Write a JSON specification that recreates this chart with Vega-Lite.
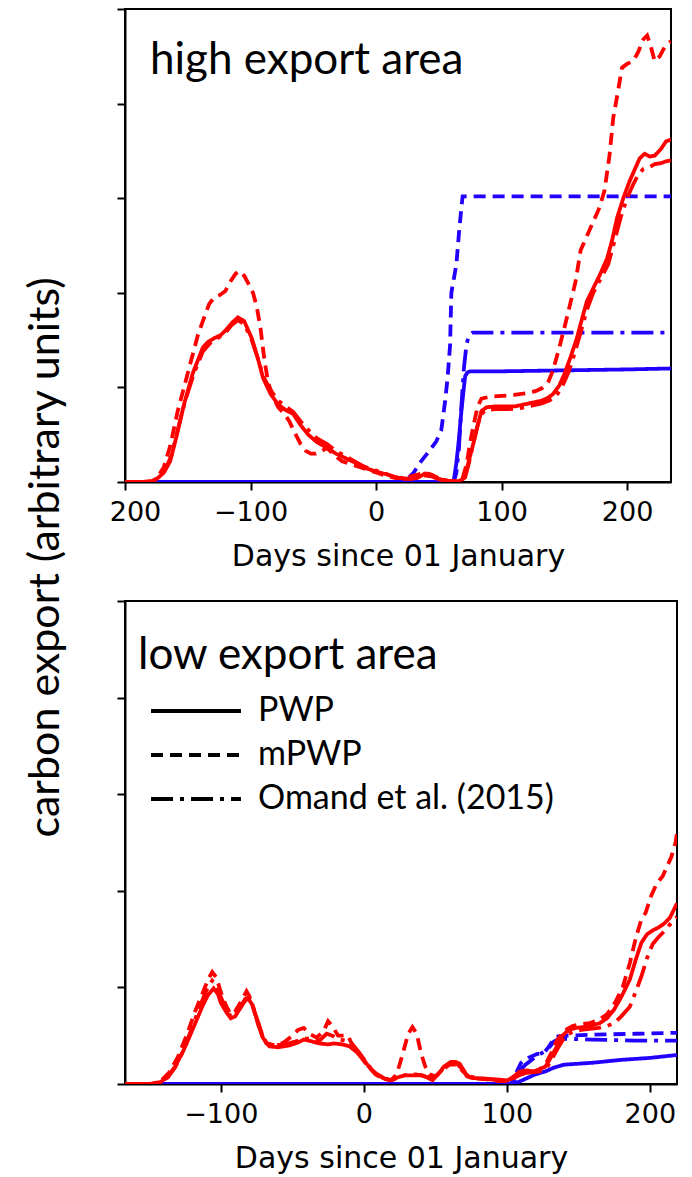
{
  "$schema": "https://vega.github.io/schema/vega-lite/v6.json",
  "background": "white",
  "padding": {"left": 23, "top": 7, "right": 5, "bottom": 5},
  "bounds": "flush",
  "spacing": 119,
  "config": {
    "view": {"stroke": "black", "strokeWidth": 2},
    "axis": {"domainColor": "black", "tickColor": "black", "labelColor": "black", "titleColor": "black", "labelFont": "DejaVu Sans", "titleFont": "DejaVu Sans", "grid": false, "domainWidth": 2, "tickWidth": 2, "tickSize": 8, "labelFontSize": 27, "titleFontSize": 30, "titleFontWeight": "normal", "labelPadding": 9, "titlePadding": 16, "labelFlush": false}
  },
  "resolve": {
    "scale": {"x": "independent", "y": "independent", "color": "independent", "strokeDash": "independent"},
    "legend": {"color": "independent", "strokeDash": "independent"}
  },
  "datasets": {
    "high": [
      {"group":"B","method":"PWP","day":-200,"value":0},{"group":"B","method":"PWP","day":60,"value":0},{"group":"B","method":"PWP","day":62,"value":0.02},{"group":"B","method":"PWP","day":64,"value":0.2},{"group":"B","method":"PWP","day":66,"value":0.45},{"group":"B","method":"PWP","day":68,"value":0.75},{"group":"B","method":"PWP","day":70,"value":1.0},{"group":"B","method":"PWP","day":71,"value":1.12},{"group":"B","method":"PWP","day":73,"value":1.16},{"group":"B","method":"PWP","day":75,"value":1.17},{"group":"B","method":"PWP","day":100,"value":1.17},{"group":"B","method":"PWP","day":150,"value":1.18},{"group":"B","method":"PWP","day":200,"value":1.19},{"group":"B","method":"PWP","day":235,"value":1.2},
      {"group":"B","method":"mPWP","day":-200,"value":0},{"group":"B","method":"mPWP","day":20,"value":0},{"group":"B","method":"mPWP","day":25,"value":0.03},{"group":"B","method":"mPWP","day":30,"value":0.1},{"group":"B","method":"mPWP","day":36,"value":0.22},{"group":"B","method":"mPWP","day":42,"value":0.32},{"group":"B","method":"mPWP","day":48,"value":0.43},{"group":"B","method":"mPWP","day":52,"value":0.55},{"group":"B","method":"mPWP","day":55,"value":0.85},{"group":"B","method":"mPWP","day":57,"value":1.1},{"group":"B","method":"mPWP","day":59,"value":1.45},{"group":"B","method":"mPWP","day":60,"value":2.0},{"group":"B","method":"mPWP","day":62,"value":2.15},{"group":"B","method":"mPWP","day":64,"value":2.3},{"group":"B","method":"mPWP","day":66,"value":2.62},{"group":"B","method":"mPWP","day":68,"value":2.9},{"group":"B","method":"mPWP","day":69,"value":3.02},{"group":"B","method":"mPWP","day":100,"value":3.02},{"group":"B","method":"mPWP","day":235,"value":3.02},
      {"group":"B","method":"Omand et al. (2015)","day":-200,"value":0},{"group":"B","method":"Omand et al. (2015)","day":62,"value":0},{"group":"B","method":"Omand et al. (2015)","day":64,"value":0.1},{"group":"B","method":"Omand et al. (2015)","day":66,"value":0.35},{"group":"B","method":"Omand et al. (2015)","day":68,"value":0.8},{"group":"B","method":"Omand et al. (2015)","day":70,"value":1.2},{"group":"B","method":"Omand et al. (2015)","day":72,"value":1.45},{"group":"B","method":"Omand et al. (2015)","day":74,"value":1.55},{"group":"B","method":"Omand et al. (2015)","day":77,"value":1.58},{"group":"B","method":"Omand et al. (2015)","day":235,"value":1.58},
      {"group":"A","method":"PWP","day":-200,"value":0},{"group":"A","method":"PWP","day":-185,"value":0},{"group":"A","method":"PWP","day":-178,"value":0.01},{"group":"A","method":"PWP","day":-174,"value":0.04},{"group":"A","method":"PWP","day":-169,"value":0.1},{"group":"A","method":"PWP","day":-164,"value":0.22},{"group":"A","method":"PWP","day":-159,"value":0.48},{"group":"A","method":"PWP","day":-153,"value":0.82},{"group":"A","method":"PWP","day":-146,"value":1.15},{"group":"A","method":"PWP","day":-138,"value":1.42},{"group":"A","method":"PWP","day":-134,"value":1.48},{"group":"A","method":"PWP","day":-129,"value":1.52},{"group":"A","method":"PWP","day":-124,"value":1.55},{"group":"A","method":"PWP","day":-120,"value":1.6},{"group":"A","method":"PWP","day":-115,"value":1.68},{"group":"A","method":"PWP","day":-110,"value":1.74},{"group":"A","method":"PWP","day":-105,"value":1.7},{"group":"A","method":"PWP","day":-99,"value":1.52},{"group":"A","method":"PWP","day":-94,"value":1.3},{"group":"A","method":"PWP","day":-90,"value":1.1},{"group":"A","method":"PWP","day":-84,"value":0.93},{"group":"A","method":"PWP","day":-78,"value":0.82},{"group":"A","method":"PWP","day":-72,"value":0.76},{"group":"A","method":"PWP","day":-66,"value":0.72},{"group":"A","method":"PWP","day":-60,"value":0.6},{"group":"A","method":"PWP","day":-54,"value":0.5},{"group":"A","method":"PWP","day":-47,"value":0.42},{"group":"A","method":"PWP","day":-39,"value":0.36},{"group":"A","method":"PWP","day":-32,"value":0.3},{"group":"A","method":"PWP","day":-24,"value":0.25},{"group":"A","method":"PWP","day":-16,"value":0.2},{"group":"A","method":"PWP","day":-9,"value":0.15},{"group":"A","method":"PWP","day":0,"value":0.11},{"group":"A","method":"PWP","day":9,"value":0.08},{"group":"A","method":"PWP","day":15,"value":0.05},{"group":"A","method":"PWP","day":21,"value":0.04},{"group":"A","method":"PWP","day":28,"value":0.03},{"group":"A","method":"PWP","day":34,"value":0.05},{"group":"A","method":"PWP","day":39,"value":0.09},{"group":"A","method":"PWP","day":44,"value":0.07},{"group":"A","method":"PWP","day":50,"value":0.03},{"group":"A","method":"PWP","day":58,"value":0.01},{"group":"A","method":"PWP","day":66,"value":0.01},{"group":"A","method":"PWP","day":69,"value":0.03},{"group":"A","method":"PWP","day":72,"value":0.12},{"group":"A","method":"PWP","day":75,"value":0.28},{"group":"A","method":"PWP","day":78,"value":0.43},{"group":"A","method":"PWP","day":81,"value":0.6},{"group":"A","method":"PWP","day":84,"value":0.75},{"group":"A","method":"PWP","day":88,"value":0.79},{"group":"A","method":"PWP","day":96,"value":0.8},{"group":"A","method":"PWP","day":104,"value":0.8},{"group":"A","method":"PWP","day":111,"value":0.8},{"group":"A","method":"PWP","day":118,"value":0.82},{"group":"A","method":"PWP","day":125,"value":0.84},{"group":"A","method":"PWP","day":132,"value":0.86},{"group":"A","method":"PWP","day":137,"value":0.89},{"group":"A","method":"PWP","day":141,"value":0.93},{"group":"A","method":"PWP","day":146,"value":1.02},{"group":"A","method":"PWP","day":150,"value":1.14},{"group":"A","method":"PWP","day":155,"value":1.32},{"group":"A","method":"PWP","day":160,"value":1.52},{"group":"A","method":"PWP","day":164,"value":1.72},{"group":"A","method":"PWP","day":168,"value":1.91},{"group":"A","method":"PWP","day":172,"value":2.02},{"group":"A","method":"PWP","day":178,"value":2.18},{"group":"A","method":"PWP","day":184,"value":2.36},{"group":"A","method":"PWP","day":188,"value":2.55},{"group":"A","method":"PWP","day":192,"value":2.79},{"group":"A","method":"PWP","day":197,"value":3.0},{"group":"A","method":"PWP","day":202,"value":3.18},{"group":"A","method":"PWP","day":206,"value":3.3},{"group":"A","method":"PWP","day":210,"value":3.42},{"group":"A","method":"PWP","day":214,"value":3.47},{"group":"A","method":"PWP","day":218,"value":3.44},{"group":"A","method":"PWP","day":222,"value":3.45},{"group":"A","method":"PWP","day":227,"value":3.52},{"group":"A","method":"PWP","day":231,"value":3.6},{"group":"A","method":"PWP","day":235,"value":3.62},
      {"group":"A","method":"mPWP","day":-200,"value":0},{"group":"A","method":"mPWP","day":-185,"value":0},{"group":"A","method":"mPWP","day":-178,"value":0.01},{"group":"A","method":"mPWP","day":-174,"value":0.05},{"group":"A","method":"mPWP","day":-169,"value":0.16},{"group":"A","method":"mPWP","day":-164,"value":0.38},{"group":"A","method":"mPWP","day":-158,"value":0.75},{"group":"A","method":"mPWP","day":-152,"value":1.05},{"group":"A","method":"mPWP","day":-147,"value":1.3},{"group":"A","method":"mPWP","day":-142,"value":1.55},{"group":"A","method":"mPWP","day":-138,"value":1.7},{"group":"A","method":"mPWP","day":-133,"value":1.88},{"group":"A","method":"mPWP","day":-129,"value":1.95},{"group":"A","method":"mPWP","day":-124,"value":1.98},{"group":"A","method":"mPWP","day":-120,"value":2.02},{"group":"A","method":"mPWP","day":-116,"value":2.12},{"group":"A","method":"mPWP","day":-112,"value":2.2},{"group":"A","method":"mPWP","day":-109,"value":2.23},{"group":"A","method":"mPWP","day":-105,"value":2.18},{"group":"A","method":"mPWP","day":-101,"value":2.08},{"group":"A","method":"mPWP","day":-98,"value":2.0},{"group":"A","method":"mPWP","day":-95,"value":1.85},{"group":"A","method":"mPWP","day":-92,"value":1.62},{"group":"A","method":"mPWP","day":-89,"value":1.3},{"group":"A","method":"mPWP","day":-86,"value":1.05},{"group":"A","method":"mPWP","day":-82,"value":0.9},{"group":"A","method":"mPWP","day":-78,"value":0.79},{"group":"A","method":"mPWP","day":-73,"value":0.72},{"group":"A","method":"mPWP","day":-69,"value":0.64},{"group":"A","method":"mPWP","day":-64,"value":0.5},{"group":"A","method":"mPWP","day":-60,"value":0.4},{"group":"A","method":"mPWP","day":-56,"value":0.33},{"group":"A","method":"mPWP","day":-52,"value":0.3},{"group":"A","method":"mPWP","day":-48,"value":0.3},{"group":"A","method":"mPWP","day":-43,"value":0.33},{"group":"A","method":"mPWP","day":-39,"value":0.36},{"group":"A","method":"mPWP","day":-33,"value":0.28},{"group":"A","method":"mPWP","day":-27,"value":0.22},{"group":"A","method":"mPWP","day":-18,"value":0.18},{"group":"A","method":"mPWP","day":-9,"value":0.14},{"group":"A","method":"mPWP","day":0,"value":0.1},{"group":"A","method":"mPWP","day":9,"value":0.06},{"group":"A","method":"mPWP","day":16,"value":0.04},{"group":"A","method":"mPWP","day":22,"value":0.04},{"group":"A","method":"mPWP","day":28,"value":0.06},{"group":"A","method":"mPWP","day":34,"value":0.08},{"group":"A","method":"mPWP","day":39,"value":0.1},{"group":"A","method":"mPWP","day":44,"value":0.08},{"group":"A","method":"mPWP","day":50,"value":0.04},{"group":"A","method":"mPWP","day":58,"value":0.01},{"group":"A","method":"mPWP","day":66,"value":0.01},{"group":"A","method":"mPWP","day":69,"value":0.04},{"group":"A","method":"mPWP","day":72,"value":0.18},{"group":"A","method":"mPWP","day":75,"value":0.42},{"group":"A","method":"mPWP","day":78,"value":0.62},{"group":"A","method":"mPWP","day":81,"value":0.8},{"group":"A","method":"mPWP","day":84,"value":0.88},{"group":"A","method":"mPWP","day":90,"value":0.9},{"group":"A","method":"mPWP","day":100,"value":0.91},{"group":"A","method":"mPWP","day":110,"value":0.92},{"group":"A","method":"mPWP","day":120,"value":0.94},{"group":"A","method":"mPWP","day":127,"value":0.96},{"group":"A","method":"mPWP","day":132,"value":0.99},{"group":"A","method":"mPWP","day":137,"value":1.05},{"group":"A","method":"mPWP","day":141,"value":1.18},{"group":"A","method":"mPWP","day":146,"value":1.42},{"group":"A","method":"mPWP","day":151,"value":1.68},{"group":"A","method":"mPWP","day":155,"value":1.9},{"group":"A","method":"mPWP","day":159,"value":2.12},{"group":"A","method":"mPWP","day":163,"value":2.45},{"group":"A","method":"mPWP","day":168,"value":2.6},{"group":"A","method":"mPWP","day":173,"value":2.75},{"group":"A","method":"mPWP","day":178,"value":2.9},{"group":"A","method":"mPWP","day":182,"value":3.08},{"group":"A","method":"mPWP","day":186,"value":3.45},{"group":"A","method":"mPWP","day":189,"value":3.85},{"group":"A","method":"mPWP","day":193,"value":4.15},{"group":"A","method":"mPWP","day":196,"value":4.38},{"group":"A","method":"mPWP","day":200,"value":4.42},{"group":"A","method":"mPWP","day":205,"value":4.45},{"group":"A","method":"mPWP","day":209,"value":4.55},{"group":"A","method":"mPWP","day":213,"value":4.68},{"group":"A","method":"mPWP","day":216,"value":4.72},{"group":"A","method":"mPWP","day":219,"value":4.6},{"group":"A","method":"mPWP","day":222,"value":4.45},{"group":"A","method":"mPWP","day":226,"value":4.5},{"group":"A","method":"mPWP","day":230,"value":4.6},{"group":"A","method":"mPWP","day":235,"value":4.66},
      {"group":"A","method":"Omand et al. (2015)","day":-200,"value":0},{"group":"A","method":"Omand et al. (2015)","day":-185,"value":0},{"group":"A","method":"Omand et al. (2015)","day":-178,"value":0.01},{"group":"A","method":"Omand et al. (2015)","day":-173,"value":0.05},{"group":"A","method":"Omand et al. (2015)","day":-168,"value":0.13},{"group":"A","method":"Omand et al. (2015)","day":-163,"value":0.28},{"group":"A","method":"Omand et al. (2015)","day":-158,"value":0.55},{"group":"A","method":"Omand et al. (2015)","day":-152,"value":0.86},{"group":"A","method":"Omand et al. (2015)","day":-145,"value":1.15},{"group":"A","method":"Omand et al. (2015)","day":-138,"value":1.38},{"group":"A","method":"Omand et al. (2015)","day":-132,"value":1.47},{"group":"A","method":"Omand et al. (2015)","day":-126,"value":1.52},{"group":"A","method":"Omand et al. (2015)","day":-120,"value":1.58},{"group":"A","method":"Omand et al. (2015)","day":-115,"value":1.66},{"group":"A","method":"Omand et al. (2015)","day":-110,"value":1.71},{"group":"A","method":"Omand et al. (2015)","day":-105,"value":1.67},{"group":"A","method":"Omand et al. (2015)","day":-99,"value":1.5},{"group":"A","method":"Omand et al. (2015)","day":-94,"value":1.3},{"group":"A","method":"Omand et al. (2015)","day":-90,"value":1.12},{"group":"A","method":"Omand et al. (2015)","day":-84,"value":0.97},{"group":"A","method":"Omand et al. (2015)","day":-78,"value":0.86},{"group":"A","method":"Omand et al. (2015)","day":-72,"value":0.8},{"group":"A","method":"Omand et al. (2015)","day":-66,"value":0.74},{"group":"A","method":"Omand et al. (2015)","day":-60,"value":0.64},{"group":"A","method":"Omand et al. (2015)","day":-54,"value":0.55},{"group":"A","method":"Omand et al. (2015)","day":-47,"value":0.46},{"group":"A","method":"Omand et al. (2015)","day":-39,"value":0.4},{"group":"A","method":"Omand et al. (2015)","day":-32,"value":0.33},{"group":"A","method":"Omand et al. (2015)","day":-24,"value":0.27},{"group":"A","method":"Omand et al. (2015)","day":-16,"value":0.21},{"group":"A","method":"Omand et al. (2015)","day":-9,"value":0.16},{"group":"A","method":"Omand et al. (2015)","day":0,"value":0.12},{"group":"A","method":"Omand et al. (2015)","day":9,"value":0.08},{"group":"A","method":"Omand et al. (2015)","day":16,"value":0.05},{"group":"A","method":"Omand et al. (2015)","day":24,"value":0.03},{"group":"A","method":"Omand et al. (2015)","day":32,"value":0.04},{"group":"A","method":"Omand et al. (2015)","day":38,"value":0.07},{"group":"A","method":"Omand et al. (2015)","day":44,"value":0.06},{"group":"A","method":"Omand et al. (2015)","day":50,"value":0.03},{"group":"A","method":"Omand et al. (2015)","day":58,"value":0.01},{"group":"A","method":"Omand et al. (2015)","day":67,"value":0.01},{"group":"A","method":"Omand et al. (2015)","day":71,"value":0.05},{"group":"A","method":"Omand et al. (2015)","day":74,"value":0.2},{"group":"A","method":"Omand et al. (2015)","day":77,"value":0.38},{"group":"A","method":"Omand et al. (2015)","day":80,"value":0.55},{"group":"A","method":"Omand et al. (2015)","day":83,"value":0.7},{"group":"A","method":"Omand et al. (2015)","day":87,"value":0.76},{"group":"A","method":"Omand et al. (2015)","day":95,"value":0.77},{"group":"A","method":"Omand et al. (2015)","day":105,"value":0.77},{"group":"A","method":"Omand et al. (2015)","day":115,"value":0.78},{"group":"A","method":"Omand et al. (2015)","day":125,"value":0.81},{"group":"A","method":"Omand et al. (2015)","day":132,"value":0.83},{"group":"A","method":"Omand et al. (2015)","day":138,"value":0.86},{"group":"A","method":"Omand et al. (2015)","day":143,"value":0.9},{"group":"A","method":"Omand et al. (2015)","day":148,"value":1.0},{"group":"A","method":"Omand et al. (2015)","day":153,"value":1.15},{"group":"A","method":"Omand et al. (2015)","day":158,"value":1.35},{"group":"A","method":"Omand et al. (2015)","day":163,"value":1.58},{"group":"A","method":"Omand et al. (2015)","day":168,"value":1.82},{"group":"A","method":"Omand et al. (2015)","day":173,"value":2.0},{"group":"A","method":"Omand et al. (2015)","day":179,"value":2.15},{"group":"A","method":"Omand et al. (2015)","day":185,"value":2.3},{"group":"A","method":"Omand et al. (2015)","day":190,"value":2.55},{"group":"A","method":"Omand et al. (2015)","day":195,"value":2.8},{"group":"A","method":"Omand et al. (2015)","day":200,"value":3.0},{"group":"A","method":"Omand et al. (2015)","day":205,"value":3.15},{"group":"A","method":"Omand et al. (2015)","day":209,"value":3.25},{"group":"A","method":"Omand et al. (2015)","day":213,"value":3.31},{"group":"A","method":"Omand et al. (2015)","day":218,"value":3.33},{"group":"A","method":"Omand et al. (2015)","day":222,"value":3.36},{"group":"A","method":"Omand et al. (2015)","day":227,"value":3.37},{"group":"A","method":"Omand et al. (2015)","day":231,"value":3.39},{"group":"A","method":"Omand et al. (2015)","day":235,"value":3.4}
    ],
    "low": [
      {"group":"B","method":"PWP","day":-167,"value":0},{"group":"B","method":"PWP","day":103,"value":0},{"group":"B","method":"PWP","day":108,"value":0.02},{"group":"B","method":"PWP","day":114,"value":0.06},{"group":"B","method":"PWP","day":120,"value":0.1},{"group":"B","method":"PWP","day":127,"value":0.13},{"group":"B","method":"PWP","day":133,"value":0.17},{"group":"B","method":"PWP","day":140,"value":0.2},{"group":"B","method":"PWP","day":160,"value":0.22},{"group":"B","method":"PWP","day":180,"value":0.25},{"group":"B","method":"PWP","day":200,"value":0.27},{"group":"B","method":"PWP","day":219,"value":0.3},
      {"group":"B","method":"mPWP","day":-167,"value":0},{"group":"B","method":"mPWP","day":103,"value":0},{"group":"B","method":"mPWP","day":106,"value":0.1},{"group":"B","method":"mPWP","day":110,"value":0.22},{"group":"B","method":"mPWP","day":115,"value":0.27},{"group":"B","method":"mPWP","day":121,"value":0.31},{"group":"B","method":"mPWP","day":126,"value":0.32},{"group":"B","method":"mPWP","day":130,"value":0.4},{"group":"B","method":"mPWP","day":134,"value":0.49},{"group":"B","method":"mPWP","day":140,"value":0.5},{"group":"B","method":"mPWP","day":160,"value":0.51},{"group":"B","method":"mPWP","day":190,"value":0.52},{"group":"B","method":"mPWP","day":219,"value":0.53},
      {"group":"B","method":"Omand et al. (2015)","day":-167,"value":0},{"group":"B","method":"Omand et al. (2015)","day":104,"value":0},{"group":"B","method":"Omand et al. (2015)","day":108,"value":0.12},{"group":"B","method":"Omand et al. (2015)","day":113,"value":0.2},{"group":"B","method":"Omand et al. (2015)","day":120,"value":0.28},{"group":"B","method":"Omand et al. (2015)","day":128,"value":0.35},{"group":"B","method":"Omand et al. (2015)","day":133,"value":0.44},{"group":"B","method":"Omand et al. (2015)","day":137,"value":0.47},{"group":"B","method":"Omand et al. (2015)","day":160,"value":0.46},{"group":"B","method":"Omand et al. (2015)","day":190,"value":0.45},{"group":"B","method":"Omand et al. (2015)","day":219,"value":0.45},
      {"group":"A","method":"PWP","day":-167,"value":0},{"group":"A","method":"PWP","day":-150,"value":0},{"group":"A","method":"PWP","day":-142,"value":0.02},{"group":"A","method":"PWP","day":-137,"value":0.08},{"group":"A","method":"PWP","day":-132,"value":0.18},{"group":"A","method":"PWP","day":-126,"value":0.35},{"group":"A","method":"PWP","day":-121,"value":0.52},{"group":"A","method":"PWP","day":-117,"value":0.66},{"group":"A","method":"PWP","day":-113,"value":0.8},{"group":"A","method":"PWP","day":-109,"value":0.92},{"group":"A","method":"PWP","day":-105,"value":0.99},{"group":"A","method":"PWP","day":-102,"value":0.93},{"group":"A","method":"PWP","day":-100,"value":0.84},{"group":"A","method":"PWP","day":-96,"value":0.74},{"group":"A","method":"PWP","day":-93,"value":0.68},{"group":"A","method":"PWP","day":-90,"value":0.7},{"group":"A","method":"PWP","day":-87,"value":0.77},{"group":"A","method":"PWP","day":-84,"value":0.84},{"group":"A","method":"PWP","day":-81,"value":0.89},{"group":"A","method":"PWP","day":-78,"value":0.82},{"group":"A","method":"PWP","day":-76,"value":0.73},{"group":"A","method":"PWP","day":-73,"value":0.6},{"group":"A","method":"PWP","day":-71,"value":0.49},{"group":"A","method":"PWP","day":-68,"value":0.42},{"group":"A","method":"PWP","day":-66,"value":0.39},{"group":"A","method":"PWP","day":-60,"value":0.38},{"group":"A","method":"PWP","day":-52,"value":0.4},{"group":"A","method":"PWP","day":-46,"value":0.43},{"group":"A","method":"PWP","day":-42,"value":0.46},{"group":"A","method":"PWP","day":-36,"value":0.44},{"group":"A","method":"PWP","day":-31,"value":0.42},{"group":"A","method":"PWP","day":-25,"value":0.41},{"group":"A","method":"PWP","day":-21,"value":0.42},{"group":"A","method":"PWP","day":-15,"value":0.41},{"group":"A","method":"PWP","day":-10,"value":0.39},{"group":"A","method":"PWP","day":-5,"value":0.33},{"group":"A","method":"PWP","day":0,"value":0.25},{"group":"A","method":"PWP","day":4,"value":0.17},{"group":"A","method":"PWP","day":8.5,"value":0.11},{"group":"A","method":"PWP","day":14,"value":0.06},{"group":"A","method":"PWP","day":19,"value":0.04},{"group":"A","method":"PWP","day":24,"value":0.07},{"group":"A","method":"PWP","day":29,"value":0.09},{"group":"A","method":"PWP","day":35,"value":0.09},{"group":"A","method":"PWP","day":40,"value":0.09},{"group":"A","method":"PWP","day":44,"value":0.07},{"group":"A","method":"PWP","day":48,"value":0.04},{"group":"A","method":"PWP","day":52,"value":0.1},{"group":"A","method":"PWP","day":56,"value":0.18},{"group":"A","method":"PWP","day":61,"value":0.23},{"group":"A","method":"PWP","day":64,"value":0.23},{"group":"A","method":"PWP","day":67,"value":0.21},{"group":"A","method":"PWP","day":70,"value":0.14},{"group":"A","method":"PWP","day":72,"value":0.08},{"group":"A","method":"PWP","day":76,"value":0.06},{"group":"A","method":"PWP","day":80,"value":0.06},{"group":"A","method":"PWP","day":87,"value":0.05},{"group":"A","method":"PWP","day":93,"value":0.04},{"group":"A","method":"PWP","day":101,"value":0.04},{"group":"A","method":"PWP","day":105,"value":0.08},{"group":"A","method":"PWP","day":109,"value":0.13},{"group":"A","method":"PWP","day":114,"value":0.14},{"group":"A","method":"PWP","day":119,"value":0.13},{"group":"A","method":"PWP","day":124,"value":0.16},{"group":"A","method":"PWP","day":127,"value":0.18},{"group":"A","method":"PWP","day":131,"value":0.28},{"group":"A","method":"PWP","day":135,"value":0.39},{"group":"A","method":"PWP","day":139,"value":0.5},{"group":"A","method":"PWP","day":143,"value":0.56},{"group":"A","method":"PWP","day":148,"value":0.58},{"group":"A","method":"PWP","day":154,"value":0.59},{"group":"A","method":"PWP","day":160,"value":0.61},{"group":"A","method":"PWP","day":165,"value":0.63},{"group":"A","method":"PWP","day":170,"value":0.68},{"group":"A","method":"PWP","day":175,"value":0.77},{"group":"A","method":"PWP","day":180,"value":0.9},{"group":"A","method":"PWP","day":186,"value":1.08},{"group":"A","method":"PWP","day":190,"value":1.28},{"group":"A","method":"PWP","day":194,"value":1.46},{"group":"A","method":"PWP","day":198,"value":1.55},{"group":"A","method":"PWP","day":202,"value":1.59},{"group":"A","method":"PWP","day":206,"value":1.62},{"group":"A","method":"PWP","day":210,"value":1.66},{"group":"A","method":"PWP","day":214,"value":1.72},{"group":"A","method":"PWP","day":219,"value":1.87},
      {"group":"A","method":"mPWP","day":-167,"value":0},{"group":"A","method":"mPWP","day":-148,"value":0},{"group":"A","method":"mPWP","day":-142,"value":0.03},{"group":"A","method":"mPWP","day":-136,"value":0.12},{"group":"A","method":"mPWP","day":-130,"value":0.28},{"group":"A","method":"mPWP","day":-124,"value":0.5},{"group":"A","method":"mPWP","day":-118,"value":0.75},{"group":"A","method":"mPWP","day":-113,"value":0.93},{"group":"A","method":"mPWP","day":-109,"value":1.08},{"group":"A","method":"mPWP","day":-106,"value":1.16},{"group":"A","method":"mPWP","day":-103,"value":1.1},{"group":"A","method":"mPWP","day":-100,"value":0.95},{"group":"A","method":"mPWP","day":-96,"value":0.8},{"group":"A","method":"mPWP","day":-93,"value":0.72},{"group":"A","method":"mPWP","day":-90,"value":0.75},{"group":"A","method":"mPWP","day":-86,"value":0.85},{"group":"A","method":"mPWP","day":-82,"value":0.96},{"group":"A","method":"mPWP","day":-79,"value":0.88},{"group":"A","method":"mPWP","day":-76,"value":0.72},{"group":"A","method":"mPWP","day":-72,"value":0.55},{"group":"A","method":"mPWP","day":-68,"value":0.42},{"group":"A","method":"mPWP","day":-62,"value":0.4},{"group":"A","method":"mPWP","day":-56,"value":0.43},{"group":"A","method":"mPWP","day":-50,"value":0.5},{"group":"A","method":"mPWP","day":-46,"value":0.56},{"group":"A","method":"mPWP","day":-42,"value":0.58},{"group":"A","method":"mPWP","day":-38,"value":0.52},{"group":"A","method":"mPWP","day":-33,"value":0.48},{"group":"A","method":"mPWP","day":-28,"value":0.55},{"group":"A","method":"mPWP","day":-25,"value":0.65},{"group":"A","method":"mPWP","day":-22,"value":0.6},{"group":"A","method":"mPWP","day":-18,"value":0.5},{"group":"A","method":"mPWP","day":-14,"value":0.5},{"group":"A","method":"mPWP","day":-11,"value":0.5},{"group":"A","method":"mPWP","day":-8,"value":0.4},{"group":"A","method":"mPWP","day":-3,"value":0.3},{"group":"A","method":"mPWP","day":2,"value":0.2},{"group":"A","method":"mPWP","day":8,"value":0.1},{"group":"A","method":"mPWP","day":14,"value":0.05},{"group":"A","method":"mPWP","day":19,"value":0.04},{"group":"A","method":"mPWP","day":23,"value":0.1},{"group":"A","method":"mPWP","day":27,"value":0.3},{"group":"A","method":"mPWP","day":31,"value":0.52},{"group":"A","method":"mPWP","day":34,"value":0.59},{"group":"A","method":"mPWP","day":37,"value":0.52},{"group":"A","method":"mPWP","day":40,"value":0.32},{"group":"A","method":"mPWP","day":43,"value":0.18},{"group":"A","method":"mPWP","day":46,"value":0.1},{"group":"A","method":"mPWP","day":50,"value":0.08},{"group":"A","method":"mPWP","day":55,"value":0.15},{"group":"A","method":"mPWP","day":60,"value":0.2},{"group":"A","method":"mPWP","day":65,"value":0.2},{"group":"A","method":"mPWP","day":70,"value":0.12},{"group":"A","method":"mPWP","day":75,"value":0.06},{"group":"A","method":"mPWP","day":85,"value":0.05},{"group":"A","method":"mPWP","day":95,"value":0.03},{"group":"A","method":"mPWP","day":102,"value":0.03},{"group":"A","method":"mPWP","day":106,"value":0.07},{"group":"A","method":"mPWP","day":110,"value":0.1},{"group":"A","method":"mPWP","day":116,"value":0.12},{"group":"A","method":"mPWP","day":122,"value":0.14},{"group":"A","method":"mPWP","day":127,"value":0.2},{"group":"A","method":"mPWP","day":131,"value":0.32},{"group":"A","method":"mPWP","day":135,"value":0.45},{"group":"A","method":"mPWP","day":140,"value":0.55},{"group":"A","method":"mPWP","day":146,"value":0.6},{"group":"A","method":"mPWP","day":152,"value":0.62},{"group":"A","method":"mPWP","day":158,"value":0.63},{"group":"A","method":"mPWP","day":164,"value":0.66},{"group":"A","method":"mPWP","day":170,"value":0.72},{"group":"A","method":"mPWP","day":176,"value":0.85},{"group":"A","method":"mPWP","day":181,"value":1.0},{"group":"A","method":"mPWP","day":186,"value":1.25},{"group":"A","method":"mPWP","day":190,"value":1.5},{"group":"A","method":"mPWP","day":194,"value":1.7},{"group":"A","method":"mPWP","day":197,"value":1.77},{"group":"A","method":"mPWP","day":201,"value":1.95},{"group":"A","method":"mPWP","day":205,"value":2.08},{"group":"A","method":"mPWP","day":209,"value":2.15},{"group":"A","method":"mPWP","day":212,"value":2.25},{"group":"A","method":"mPWP","day":215,"value":2.35},{"group":"A","method":"mPWP","day":218,"value":2.5},{"group":"A","method":"mPWP","day":219,"value":2.6},
      {"group":"A","method":"Omand et al. (2015)","day":-167,"value":0},{"group":"A","method":"Omand et al. (2015)","day":-150,"value":0},{"group":"A","method":"Omand et al. (2015)","day":-142,"value":0.02},{"group":"A","method":"Omand et al. (2015)","day":-137,"value":0.07},{"group":"A","method":"Omand et al. (2015)","day":-132,"value":0.17},{"group":"A","method":"Omand et al. (2015)","day":-126,"value":0.35},{"group":"A","method":"Omand et al. (2015)","day":-121,"value":0.55},{"group":"A","method":"Omand et al. (2015)","day":-116,"value":0.75},{"group":"A","method":"Omand et al. (2015)","day":-112,"value":0.9},{"group":"A","method":"Omand et al. (2015)","day":-109,"value":1.0},{"group":"A","method":"Omand et al. (2015)","day":-106,"value":1.07},{"group":"A","method":"Omand et al. (2015)","day":-103,"value":1.02},{"group":"A","method":"Omand et al. (2015)","day":-100,"value":0.9},{"group":"A","method":"Omand et al. (2015)","day":-96,"value":0.76},{"group":"A","method":"Omand et al. (2015)","day":-93,"value":0.7},{"group":"A","method":"Omand et al. (2015)","day":-90,"value":0.72},{"group":"A","method":"Omand et al. (2015)","day":-86,"value":0.8},{"group":"A","method":"Omand et al. (2015)","day":-83,"value":0.88},{"group":"A","method":"Omand et al. (2015)","day":-80,"value":0.9},{"group":"A","method":"Omand et al. (2015)","day":-77,"value":0.78},{"group":"A","method":"Omand et al. (2015)","day":-74,"value":0.62},{"group":"A","method":"Omand et al. (2015)","day":-71,"value":0.5},{"group":"A","method":"Omand et al. (2015)","day":-68,"value":0.42},{"group":"A","method":"Omand et al. (2015)","day":-62,"value":0.4},{"group":"A","method":"Omand et al. (2015)","day":-55,"value":0.41},{"group":"A","method":"Omand et al. (2015)","day":-48,"value":0.44},{"group":"A","method":"Omand et al. (2015)","day":-42,"value":0.47},{"group":"A","method":"Omand et al. (2015)","day":-36,"value":0.47},{"group":"A","method":"Omand et al. (2015)","day":-31,"value":0.45},{"group":"A","method":"Omand et al. (2015)","day":-26,"value":0.52},{"group":"A","method":"Omand et al. (2015)","day":-22,"value":0.5},{"group":"A","method":"Omand et al. (2015)","day":-17,"value":0.46},{"group":"A","method":"Omand et al. (2015)","day":-13,"value":0.45},{"group":"A","method":"Omand et al. (2015)","day":-9,"value":0.43},{"group":"A","method":"Omand et al. (2015)","day":-4,"value":0.34},{"group":"A","method":"Omand et al. (2015)","day":1,"value":0.24},{"group":"A","method":"Omand et al. (2015)","day":5,"value":0.16},{"group":"A","method":"Omand et al. (2015)","day":10,"value":0.09},{"group":"A","method":"Omand et al. (2015)","day":15,"value":0.05},{"group":"A","method":"Omand et al. (2015)","day":20,"value":0.04},{"group":"A","method":"Omand et al. (2015)","day":26,"value":0.08},{"group":"A","method":"Omand et al. (2015)","day":31,"value":0.1},{"group":"A","method":"Omand et al. (2015)","day":36,"value":0.1},{"group":"A","method":"Omand et al. (2015)","day":41,"value":0.09},{"group":"A","method":"Omand et al. (2015)","day":46,"value":0.06},{"group":"A","method":"Omand et al. (2015)","day":51,"value":0.08},{"group":"A","method":"Omand et al. (2015)","day":56,"value":0.17},{"group":"A","method":"Omand et al. (2015)","day":61,"value":0.22},{"group":"A","method":"Omand et al. (2015)","day":65,"value":0.21},{"group":"A","method":"Omand et al. (2015)","day":69,"value":0.15},{"group":"A","method":"Omand et al. (2015)","day":73,"value":0.08},{"group":"A","method":"Omand et al. (2015)","day":80,"value":0.06},{"group":"A","method":"Omand et al. (2015)","day":90,"value":0.05},{"group":"A","method":"Omand et al. (2015)","day":101,"value":0.04},{"group":"A","method":"Omand et al. (2015)","day":106,"value":0.07},{"group":"A","method":"Omand et al. (2015)","day":111,"value":0.11},{"group":"A","method":"Omand et al. (2015)","day":117,"value":0.12},{"group":"A","method":"Omand et al. (2015)","day":123,"value":0.13},{"group":"A","method":"Omand et al. (2015)","day":128,"value":0.17},{"group":"A","method":"Omand et al. (2015)","day":132,"value":0.27},{"group":"A","method":"Omand et al. (2015)","day":136,"value":0.38},{"group":"A","method":"Omand et al. (2015)","day":141,"value":0.5},{"group":"A","method":"Omand et al. (2015)","day":146,"value":0.54},{"group":"A","method":"Omand et al. (2015)","day":152,"value":0.56},{"group":"A","method":"Omand et al. (2015)","day":158,"value":0.57},{"group":"A","method":"Omand et al. (2015)","day":164,"value":0.58},{"group":"A","method":"Omand et al. (2015)","day":170,"value":0.6},{"group":"A","method":"Omand et al. (2015)","day":175,"value":0.63},{"group":"A","method":"Omand et al. (2015)","day":180,"value":0.7},{"group":"A","method":"Omand et al. (2015)","day":186,"value":0.8},{"group":"A","method":"Omand et al. (2015)","day":190,"value":0.95},{"group":"A","method":"Omand et al. (2015)","day":194,"value":1.11},{"group":"A","method":"Omand et al. (2015)","day":198,"value":1.3},{"group":"A","method":"Omand et al. (2015)","day":202,"value":1.45},{"group":"A","method":"Omand et al. (2015)","day":206,"value":1.52},{"group":"A","method":"Omand et al. (2015)","day":210,"value":1.58},{"group":"A","method":"Omand et al. (2015)","day":214,"value":1.65},{"group":"A","method":"Omand et al. (2015)","day":219,"value":1.73}
    ]
  },
  "vconcat": [
    {
      "width": 546,
      "height": 473,
      "title": {"text": "high export area", "anchor": "start", "frame": "group", "orient": "top", "offset": 0, "dx": 25, "dy": 110, "baseline": "alphabetic", "font": "Lato", "fontSize": 44, "fontWeight": "normal", "color": "black"},
      "data": {"name": "high"},
      "mark": {"type": "line", "strokeWidth": 3.8, "clip": true},
      "encoding": {
        "x": {"field": "day", "type": "quantitative", "scale": {"domain": [-200, 235], "nice": false, "zero": false},
              "axis": {"values": [-200, -100, 0, 100, 200], "title": "Days since 01 January", "labelExpr": "datum.value == -200 ? '200' : datum.label", "labelOffset": {"condition": {"test": "datum.value == -200", "value": 10}, "value": 0}}},
        "y": {"field": "value", "type": "quantitative", "scale": {"domain": [0, 5], "nice": false},
              "axis": {"values": [0, 1, 2, 3, 4, 5], "labels": false, "title": "carbon export (arbitrary units)", "titleFont": "Lato", "titleFontSize": 43, "titleAngle": 270, "titleAlign": "center", "titleBaseline": "middle", "titleX": -80, "titleY": 548}},
        "color": {"field": "group", "type": "nominal", "scale": {"domain": ["B", "A"], "range": ["#2200ff", "#ff0000"]}, "legend": null},
        "strokeDash": {"field": "method", "type": "nominal", "scale": {"domain": ["PWP", "mPWP", "Omand et al. (2015)"], "range": [[1, 0], [12, 7], [22, 7, 4, 7]]}, "legend": null}
      }
    },
    {
      "width": 552,
      "height": 483,
      "title": {"text": "low export area", "anchor": "start", "frame": "group", "orient": "top", "offset": 0, "dx": 13, "dy": 113, "baseline": "alphabetic", "font": "Lato", "fontSize": 44, "fontWeight": "normal", "color": "black"},
      "data": {"name": "low"},
      "mark": {"type": "line", "strokeWidth": 3.8, "clip": true},
      "encoding": {
        "x": {"field": "day", "type": "quantitative", "scale": {"domain": [-167, 219], "nice": false, "zero": false},
              "axis": {"values": [-100, 0, 100, 200], "title": "Days since 01 January"}},
        "y": {"field": "value", "type": "quantitative", "scale": {"domain": [0, 5], "nice": false},
              "axis": {"values": [0, 1, 2, 3, 4, 5], "labels": false, "title": null}},
        "color": {"field": "group", "type": "nominal", "scale": {"domain": ["B", "A"], "range": ["#2200ff", "#ff0000"]}, "legend": null},
        "strokeDash": {"field": "method", "type": "nominal", "scale": {"domain": ["PWP", "mPWP", "Omand et al. (2015)"], "range": [[1, 0], [12, 7], [22, 7, 4, 7]]},
                       "legend": {"orient": "none", "legendX": 54, "legendY": 93, "title": null, "symbolType": "M-4,0H4", "symbolSize": 506, "symbolStrokeColor": "black", "symbolStrokeWidth": 4, "labelFont": "Lato", "labelFontSize": 34, "labelColor": "black", "labelLimit": 0, "rowPadding": 10, "labelOffset": 45}}
      }
    }
  ]
}
